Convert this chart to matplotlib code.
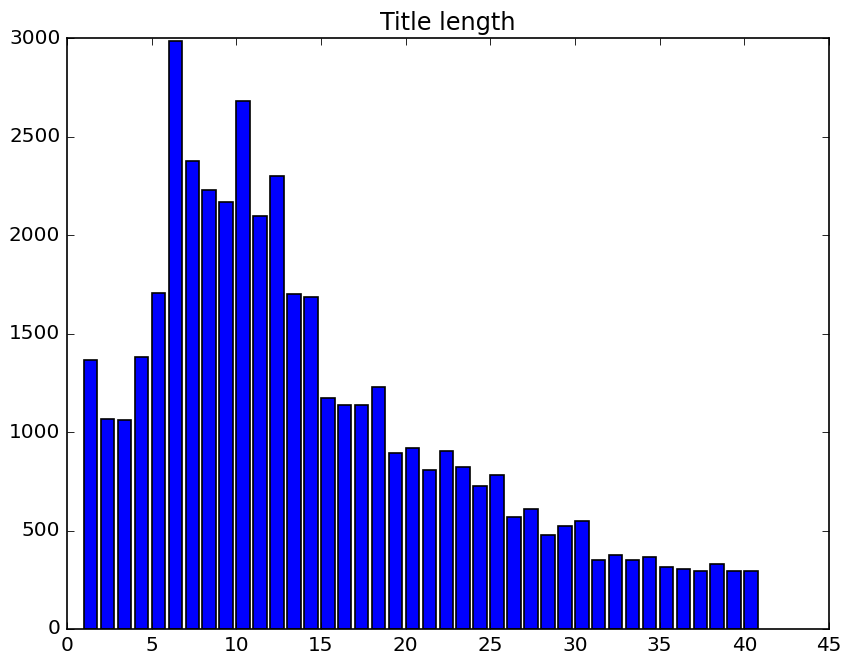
import numpy as np
import matplotlib
matplotlib.use("Agg")
import matplotlib.pyplot as plt

plt.style.use("classic")

lengths = list(range(1, 41))
counts = [1366, 1066, 1060, 1380, 1708, 2985, 2378, 2228, 2165, 2678,
          2097, 2297, 1698, 1686, 1174, 1135, 1135, 1229, 891, 918,
          806, 906, 824, 724, 780, 568, 607, 475, 524, 550,
          348, 374, 348, 368, 313, 305, 292, 331, 292, 292]

# rendered at 120 dpi so the text comes out a bit larger, like the original
dpi = 120
fig = plt.figure(figsize=(845 / dpi, 661 / dpi), dpi=dpi, facecolor="white")
ax = fig.add_axes([67 / 845, 32 / 661, 762 / 845, 591 / 661])

ax.bar(lengths, counts, width=0.8, align="edge", color="b", edgecolor="k")

ax.set_xlim(0, 45)
ax.set_ylim(0, 3000)
ax.set_xticks(np.arange(0, 46, 5))
ax.set_yticks(np.arange(0, 3001, 500))
ax.set_title("Title length")

fig.savefig("out.png", dpi=dpi, facecolor="white")
